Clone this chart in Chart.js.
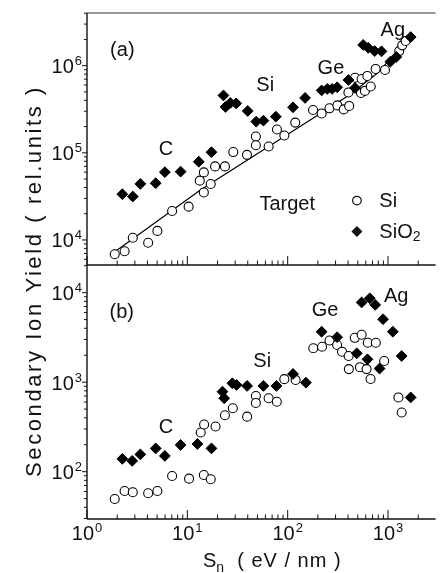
<!DOCTYPE html>
<html>
<head>
<meta charset="utf-8">
<script src="https://cdn.jsdelivr.net/npm/chart.js@4.4.1/dist/chart.umd.min.js"></script>
<style>
  html, body { margin: 0; padding: 0; background: #fff; }
  #wrap { position: relative; width: 442px; height: 573px; }
  #wrap canvas { position: absolute; left: 0; top: 0; }
</style>
</head>
<body>
<div id="wrap">
  <canvas id="bottomChart" width="442" height="573"></canvas>
  <canvas id="topChart" width="442" height="573"></canvas>
</div>
<script>
// tick values
const xTickValues = [1, 10, 100, 1000];
const yTopTickValues = [1e4, 1e5, 1e6];
const yBottomTickValues = [1e2, 1e3, 1e4];

// panel (a): Si target (open circles)
const siTopSn = [1.89, 2.37, 2.86, 4.07, 5.03, 7.05, 10.3, 13.3, 14.6, 14.6, 17.1, 18.9, 23.7, 28.7, 39.3,
  48.2, 48.2, 64.6, 78.2, 92.6, 119, 179, 218, 261, 313, 362, 410, 403, 469, 546, 537, 622, 588, 673,
  753, 933, 1294, 1384, 1497];
const siTopYield = [6850, 7420, 10600, 9300, 12700, 21500, 24100, 47900, 59600, 35100, 43800, 69800, 69800, 102000, 94700,
  154000, 122000, 118000, 185000, 158000, 222000, 310000, 283000, 324000, 350000, 315000, 345000, 493000, 727000, 703000, 486000, 762000, 513000, 577000,
  917000, 893000, 1470000, 1710000, 1920000];

// panel (a): SiO2 target (filled diamonds)
const sio2TopSn = [2.25, 2.86, 3.4, 4.84, 5.97, 8.57, 13.0, 17.4, 22.9, 26.8, 24.0, 30.7, 40, 48.6, 57.3, 76.2,
  113, 149, 218, 248, 277, 311, 403, 469, 565, 635, 736, 861, 1055, 1210, 1683];
const sio2TopYield = [33500, 31500, 44000, 44800, 60000, 60800, 79000, 101600, 455000, 373000, 336000, 369000, 302000, 228000, 234000, 260000,
  333000, 426000, 520000, 541000, 541000, 565000, 685000, 555000, 1730000, 1600000, 1470000, 1460000, 1110000, 1260000, 2130000];

// panel (a): guide line through the Si data
const fitSn = [1.88, 13.6, 61.8, 401, 787, 1352];
const fitYield = [7280, 37600, 114000, 450000, 824000, 1640000];

// panel (b): Si target
const siBottomSn = [1.89, 2.37, 2.86, 4.07, 5.03, 7.05, 10.4, 14.6, 17.1, 13.6, 14.7, 19.1, 23.7, 28.4, 39.4,
  48.2, 48.2, 64.6, 77.9, 92.6, 120, 180, 220, 261, 311, 348, 405, 407, 466, 546, 525, 611, 629, 756,
  670, 916, 1270, 1368];
const siBottomYield = [49.5, 60.8, 58.9, 57.4, 60.8, 89.5, 83.6, 91.9, 82.3, 274, 337, 320, 427, 511, 412,
  701, 586, 661, 605, 1081, 1059, 2390, 2490, 2920, 2600, 2190, 1960, 1400, 3130, 3390, 1470, 1400, 2760, 2760,
  1085, 1725, 675, 458];

// panel (b): SiO2 target
const sio2BottomSn = [2.25, 2.82, 3.4, 4.84, 5.97, 8.57, 12.6, 17.4, 22.4, 23.3, 28.1, 30.9, 39.4, 57.3, 77.3,
  113, 152, 218, 311, 488, 624, 824, 546, 658, 745, 892, 1117, 1368, 1683];
const sio2BottomYield = [139, 132, 156, 182, 150, 199, 204, 182, 783, 661, 972, 931, 908, 908, 908,
  1235, 987, 3660, 3180, 2100, 1800, 1420, 7780, 8650, 7300, 5050, 3660, 1960, 675];

const toPoints = (xs, ys) => xs.map((x, i) => ({ x: x, y: ys[i] }));

const FONT = '"Liberation Sans", Arial, Helvetica, sans-serif';
const INK = '#111';

function drawPow(ctx, exp, x, baseY, align) {
  ctx.font = '20px ' + FONT;
  const wb = ctx.measureText('10').width;
  ctx.font = '13px ' + FONT;
  const we = ctx.measureText(String(exp)).width;
  const w = wb + we + 1;
  let sx = align === 'right' ? x - w : x - w / 2;
  ctx.textAlign = 'left';
  ctx.textBaseline = 'alphabetic';
  ctx.font = '20px ' + FONT;
  ctx.fillText('10', sx, baseY);
  ctx.font = '13px ' + FONT;
  ctx.fillText(String(exp), sx + wb + 1, baseY - 8);
}

function seg(ctx, x1, y1, x2, y2) {
  ctx.beginPath();
  ctx.moveTo(x1, y1);
  ctx.lineTo(x2, y2);
  ctx.stroke();
}

const paperAxes = {
  id: 'paperAxes',
  afterDatasetsDraw(chart, args, opts) {
    const ctx = chart.ctx;
    const { left, right, top, bottom } = chart.chartArea;
    const xs = chart.scales.x, ys = chart.scales.y;
    ctx.save();
    ctx.strokeStyle = INK;
    ctx.fillStyle = INK;
    ctx.lineCap = 'butt';

    // frame
    ctx.lineWidth = 1.4;
    seg(ctx, left, top, left, bottom);
    seg(ctx, left, bottom, right, bottom);
    if (opts.frameTop) {
      ctx.lineWidth = 1;
      ctx.strokeStyle = '#333';
      seg(ctx, left, top, right, top);
      ctx.strokeStyle = INK;
    }

    // y ticks (outside)
    ctx.lineWidth = 1;
    const e0 = Math.floor(Math.log10(ys.min)), e1 = Math.ceil(Math.log10(ys.max));
    for (let e = e0; e <= e1; e++) {
      for (let m = 1; m <= 9; m++) {
        const v = m * Math.pow(10, e);
        if (v < ys.min || v > ys.max) continue;
        const py = ys.getPixelForValue(v);
        seg(ctx, left - (m === 1 ? 5 : 3), py, left, py);
      }
    }
    opts.yTicks.forEach(v => {
      const py = ys.getPixelForValue(v);
      drawPow(ctx, Math.round(Math.log10(v)), left - 5, py + 7.5, 'right');
    });

    // x ticks (inside)
    for (let e = 0; e <= 3; e++) {
      for (let m = 1; m <= 9; m++) {
        const v = m * Math.pow(10, e);
        if (v < xs.min || v > xs.max) continue;
        const px = xs.getPixelForValue(v);
        seg(ctx, px, bottom, px, bottom - (m === 1 ? 9 : 4.5));
      }
    }

    // text annotations
    ctx.textAlign = 'center';
    ctx.textBaseline = 'middle';
    ctx.font = '20px ' + FONT;
    opts.notes.forEach(n => {
      ctx.fillText(n.text, xs.getPixelForValue(n.x), ys.getPixelForValue(n.y));
    });

    if (opts.legend) {
      const lg = opts.legend;
      const cx = xs.getPixelForValue(lg.x);
      const tx = xs.getPixelForValue(lg.textX);
      const y1 = ys.getPixelForValue(lg.y1), y2 = ys.getPixelForValue(lg.y2);
      ctx.lineWidth = 1.2;
      ctx.beginPath();
      ctx.arc(cx, y1, 4.3, 0, Math.PI * 2);
      ctx.fillStyle = '#fff';
      ctx.fill();
      ctx.stroke();
      ctx.fillStyle = INK;
      ctx.beginPath();
      ctx.moveTo(cx, y2 - 5.5); ctx.lineTo(cx + 5.5, y2); ctx.lineTo(cx, y2 + 5.5); ctx.lineTo(cx - 5.5, y2);
      ctx.closePath();
      ctx.fill();
      ctx.textAlign = 'left';
      ctx.font = '20px ' + FONT;
      ctx.fillText('Si', tx, y1 + 1);
      ctx.fillText('SiO', tx, y2 + 1);
      const w = ctx.measureText('SiO').width;
      ctx.font = '14px ' + FONT;
      ctx.fillText('2', tx + w, y2 + 6);
    }

    if (opts.xLabels) {
      xTickValues.forEach(v => {
        drawPow(ctx, Math.round(Math.log10(v)), xs.getPixelForValue(v), bottom + 21, 'center');
      });
      // x title
      ctx.textAlign = 'left';
      ctx.textBaseline = 'alphabetic';
      ctx.font = '20px ' + FONT;
      let sx = 203;
      ctx.fillText('S', sx, 567);
      sx += ctx.measureText('S').width;
      ctx.font = '14px ' + FONT;
      ctx.fillText('n', sx, 572);
      sx += ctx.measureText('n').width;
      ctx.font = '20px ' + FONT;
      ctx.letterSpacing = '1px';
      ctx.fillText('  ( eV / nm )', sx, 567);

      // y title
      ctx.save();
      ctx.translate(35, 281);
      ctx.rotate(-Math.PI / 2);
      ctx.textAlign = 'center';
      ctx.textBaseline = 'middle';
      ctx.font = '22px ' + FONT;
      ctx.letterSpacing = '2.6px';
      ctx.fillText('Secondary Ion Yield ( rel.units )', 0, 0);
      ctx.restore();
      ctx.letterSpacing = '0px';
    }
    ctx.restore();
  }
};

function baseOptions(pad, yMin, yMax, axesOpts) {
  return {
    responsive: false,
    animation: false,
    devicePixelRatio: 1,
    layout: { padding: pad },
    scales: {
      x: { type: 'logarithmic', min: 1, max: 2980, display: false },
      y: { type: 'logarithmic', min: yMin, max: yMax, display: false }
    },
    plugins: {
      legend: { display: false },
      tooltip: { enabled: false },
      paperAxes: axesOpts
    }
  };
}

const circleStyle = {
  pointStyle: 'circle', pointRadius: 4.5, borderWidth: 1.1,
  borderColor: '#000', backgroundColor: '#fff', showLine: false, order: 2
};
const diamondStyle = {
  pointStyle: 'rectRot', pointRadius: 5.4, borderWidth: 1,
  borderColor: '#000', backgroundColor: '#000', showLine: false, order: 1
};

new Chart(document.getElementById('topChart'), {
  type: 'scatter',
  data: {
    datasets: [
      Object.assign({ label: 'SiO2', data: toPoints(sio2TopSn, sio2TopYield) }, diamondStyle),
      Object.assign({ label: 'Si', data: toPoints(siTopSn, siTopYield) }, circleStyle),
      {
        type: 'line', label: 'fit', data: toPoints(fitSn, fitYield),
        borderColor: '#000', borderWidth: 1.2, pointRadius: 0, fill: false,
        tension: 0, order: 3
      }
    ]
  },
  options: baseOptions({ left: 87, right: 0, top: 13, bottom: 308 }, 5160, 4.02e6, {
    frameTop: true,
    yTicks: yTopTickValues,
    notes: [
      { text: '(a)', x: 2.25, y: 1.51e6 },
      { text: 'C', x: 6.13, y: 1.08e5 },
      { text: 'Si', x: 59.7, y: 6.0e5 },
      { text: 'Ge', x: 270, y: 9.3e5 },
      { text: 'Ag', x: 1117, y: 2.5e6 },
      { text: 'Target', x: 99, y: 25300 }
    ],
    legend: { x: 490, textX: 820, y1: 28300, y2: 12500 }
  }),
  plugins: [paperAxes]
});

new Chart(document.getElementById('bottomChart'), {
  type: 'scatter',
  data: {
    datasets: [
      Object.assign({ label: 'SiO2', data: toPoints(sio2BottomSn, sio2BottomYield) }, diamondStyle),
      Object.assign({ label: 'Si', data: toPoints(siBottomSn, siBottomYield) }, circleStyle)
    ]
  },
  options: baseOptions({ left: 87, right: 0, top: 265, bottom: 54 }, 29.6, 20370, {
    frameTop: false,
    yTicks: yBottomTickValues,
    xLabels: true,
    notes: [
      { text: '(b)', x: 2.22, y: 5930 },
      { text: 'C', x: 6.13, y: 308 },
      { text: 'Si', x: 55.8, y: 1700 },
      { text: 'Ge', x: 236, y: 6400 },
      { text: 'Ag', x: 1208, y: 9070 }
    ]
  }),
  plugins: [paperAxes]
});
</script>
</body>
</html>
